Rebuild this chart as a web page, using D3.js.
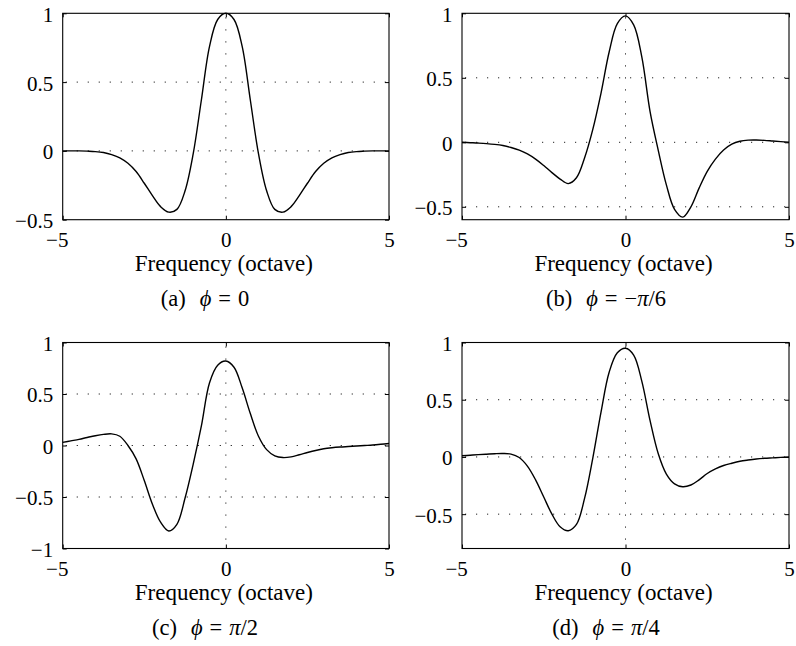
<!DOCTYPE html>
<html>
<head>
<meta charset="utf-8">
<script src="https://cdn.jsdelivr.net/npm/d3@7"></script>
<style>
  html, body { margin: 0; padding: 0; background: #fff; }
  svg { display: block; }
  text { font-family: 'Liberation Serif', 'Times New Roman', serif; }
</style>
</head>
<body>
<script>
// ---------------- data ----------------
const freq = [-5, -4.75, -4.5, -4.25, -4, -3.75, -3.5, -3.25, -3, -2.75, -2.5, -2.25, -2, -1.75, -1.5, -1.25, -1, -0.75, -0.5, -0.25,
  0, 0.25, 0.5, 0.75, 1, 1.25, 1.5, 1.75, 2, 2.25, 2.5, 2.75, 3, 3.25, 3.5, 3.75, 4, 4.25, 4.5, 4.75, 5];

const responseA = [0, 0, 0, -0.002, -0.005, -0.012, -0.027, -0.05, -0.09, -0.15, -0.235, -0.325, -0.405, -0.445, -0.425, -0.29, -0.02, 0.37, 0.76, 0.955,
  1, 0.955, 0.76, 0.37, -0.02, -0.29, -0.425, -0.445, -0.405, -0.325, -0.235, -0.15, -0.09, -0.05, -0.027, -0.012, -0.005, -0.002, 0, 0, 0];

const responseB = [0, -0.003, -0.006, -0.01, -0.016, -0.025, -0.04, -0.06, -0.09, -0.13, -0.18, -0.235, -0.285, -0.32, -0.275, -0.12, 0.1, 0.38, 0.7, 0.92,
  0.98, 0.91, 0.66, 0.24, -0.06, -0.33, -0.52, -0.58, -0.50, -0.355, -0.225, -0.13, -0.06, -0.015, 0.008, 0.017, 0.018, 0.015, 0.01, 0.005, 0];

const responseC = [0.03, 0.045, 0.06, 0.078, 0.095, 0.108, 0.113, 0.09, 0.0, -0.13, -0.34, -0.57, -0.745, -0.83, -0.765, -0.51, -0.18, 0.19, 0.61, 0.78,
  0.82, 0.76, 0.56, 0.31, 0.09, -0.04, -0.1, -0.117, -0.11, -0.09, -0.068, -0.048, -0.032, -0.022, -0.015, -0.01, -0.005, 0, 0.005, 0.012, 0.02];

const responseD = [0.01, 0.015, 0.02, 0.024, 0.028, 0.03, 0.025, -0.005, -0.08, -0.2, -0.35, -0.5, -0.61, -0.645, -0.59, -0.36, -0.01, 0.39, 0.74, 0.91,
  0.95, 0.89, 0.66, 0.32, 0.03, -0.15, -0.235, -0.26, -0.245, -0.2, -0.145, -0.105, -0.075, -0.055, -0.038, -0.027, -0.018, -0.012, -0.008, -0.004, 0];

const xTicks = [-5, 0, 5];
const yTicksA = [-0.5, 0, 0.5, 1];
const yTicksB = [-0.5, 0, 0.5, 1];
const yTicksC = [-1, -0.5, 0, 0.5, 1];
const yTicksD = [-0.5, 0, 0.5, 1];

const yDomainA = [-0.5, 1];
const yDomainB = [-0.6, 1];
const yDomainC = [-1, 1];
const yDomainD = [-0.8, 1];

const xLabel = "Frequency (octave)";
const captionLetters = ["(a)", "(b)", "(c)", "(d)"];
const captionPhases = [["0"], ["−", "π", "/6"], ["π", "/2"], ["π", "/4"]];

// ---------------- layout ----------------
const W = 796, H = 646;
const layouts = [
  { left: 62.7, right: 389, top: 13.3, bottom: 219.7, capX: 205, capY: 306 },
  { left: 462, right: 789, top: 13.3, bottom: 219.7, capX: 606, capY: 306 },
  { left: 62.7, right: 389, top: 342.5, bottom: 548.5, capX: 205, capY: 635 },
  { left: 462, right: 789, top: 342.5, bottom: 548.5, capX: 606, capY: 635 }
];
const panels = [
  { values: responseA, yTicks: yTicksA, yDomain: yDomainA },
  { values: responseB, yTicks: yTicksB, yDomain: yDomainB },
  { values: responseC, yTicks: yTicksC, yDomain: yDomainC },
  { values: responseD, yTicks: yTicksD, yDomain: yDomainD }
];

const FONT = "'Liberation Serif', 'Times New Roman', serif";
const TICK_FS = 21;
const LABEL_FS = 23;
const CAP_FS = 22.5;
const fmt = d => (d < 0 ? "−" + Math.abs(d) : String(d));

const svg = d3.select("body").append("svg")
  .attr("width", W).attr("height", H)
  .attr("viewBox", `0 0 ${W} ${H}`);
svg.append("rect").attr("width", W).attr("height", H).attr("fill", "#fff");

panels.forEach((p, i) => {
  const L = layouts[i];
  const x = d3.scaleLinear().domain([-5, 5]).range([L.left, L.right]);
  const y = d3.scaleLinear().domain(p.yDomain).range([L.bottom, L.top]);
  const g = svg.append("g");

  // grid (dotted)
  const innerY = p.yTicks.filter(t => t > p.yDomain[0] && t < p.yDomain[1]);
  g.selectAll("line.hgrid").data(innerY).join("line")
    .attr("class", "hgrid")
    .attr("x1", x(-5) + 3).attr("x2", x(5))
    .attr("y1", d => y(d)).attr("y2", d => y(d))
    .attr("stroke", "#222").attr("stroke-width", 1)
    .attr("stroke-dasharray", "1.2,9.8");
  const innerX = xTicks.filter(t => t > -5 && t < 5);
  g.selectAll("line.vgrid").data(innerX).join("line")
    .attr("class", "vgrid")
    .attr("x1", d => x(d)).attr("x2", d => x(d))
    .attr("y1", y(p.yDomain[1]) + 4).attr("y2", y(p.yDomain[0]))
    .attr("stroke", "#222").attr("stroke-width", 1)
    .attr("stroke-dasharray", "1.2,10.8");

  // curve
  const line = d3.line()
    .x((d, k) => x(freq[k]))
    .y(d => y(d))
    .curve(d3.curveCatmullRom.alpha(0.5));
  g.append("path").datum(p.values)
    .attr("d", line)
    .attr("fill", "none").attr("stroke", "#000").attr("stroke-width", 1.4)
    .attr("stroke-linejoin", "round");

  // axes with inward ticks
  const axB = g.append("g").attr("transform", `translate(0,${y(p.yDomain[0])})`)
    .call(d3.axisBottom(x).tickValues(xTicks).tickSize(-4).tickFormat(fmt));
  const axT = g.append("g").attr("transform", `translate(0,${y(p.yDomain[1])})`)
    .call(d3.axisTop(x).tickValues(xTicks).tickSize(-4).tickFormat(""));
  const axL = g.append("g").attr("transform", `translate(${x(-5)},0)`)
    .call(d3.axisLeft(y).tickValues(p.yTicks).tickSize(-4).tickPadding(9.5).tickFormat(fmt));
  const axR = g.append("g").attr("transform", `translate(${x(5)},0)`)
    .call(d3.axisRight(y).tickValues(p.yTicks).tickSize(-4).tickFormat(""));
  [axB, axT, axL, axR].forEach(a => {
    a.select(".domain").remove();
    a.attr("font-family", FONT).attr("font-size", TICK_FS).attr("color", "#000");
    a.selectAll(".tick line").attr("stroke-width", 1);
    a.selectAll(".tick text").attr("font-family", FONT).attr("font-size", TICK_FS);
  });
  axB.selectAll(".tick text")
    .attr("text-anchor", "end")
    .attr("dx", TICK_FS * 0.25)
    .attr("y", 27).attr("dy", 0);
  axL.selectAll(".tick text").attr("dy", "0.38em");

  // box
  g.append("rect")
    .attr("x", x(-5)).attr("y", y(p.yDomain[1]))
    .attr("width", x(5) - x(-5)).attr("height", y(p.yDomain[0]) - y(p.yDomain[1]))
    .attr("fill", "none").attr("stroke", "#000").attr("stroke-width", 1.1);

  // x label
  g.append("text")
    .attr("x", (x(-5) + x(5)) / 2 - 2).attr("y", y(p.yDomain[0]) + 51)
    .attr("text-anchor", "middle")
    .attr("font-family", FONT).attr("font-size", LABEL_FS)
    .text(xLabel);

  // caption
  const cap = g.append("text")
    .attr("x", L.capX).attr("y", L.capY)
    .attr("text-anchor", "middle")
    .attr("font-family", FONT).attr("font-size", CAP_FS);
  cap.append("tspan").text(captionLetters[i]);
  cap.append("tspan").attr("dx", 14).attr("font-style", "italic").text("ϕ");
  cap.append("tspan").attr("dx", 7).text("=");
  const parts = captionPhases[i];
  parts.forEach((s, k) => {
    const t = cap.append("tspan").text(s);
    if (k === 0) t.attr("dx", 7);
    if (s === "π") t.attr("font-style", "italic");
  });
});
</script>
</body>
</html>
